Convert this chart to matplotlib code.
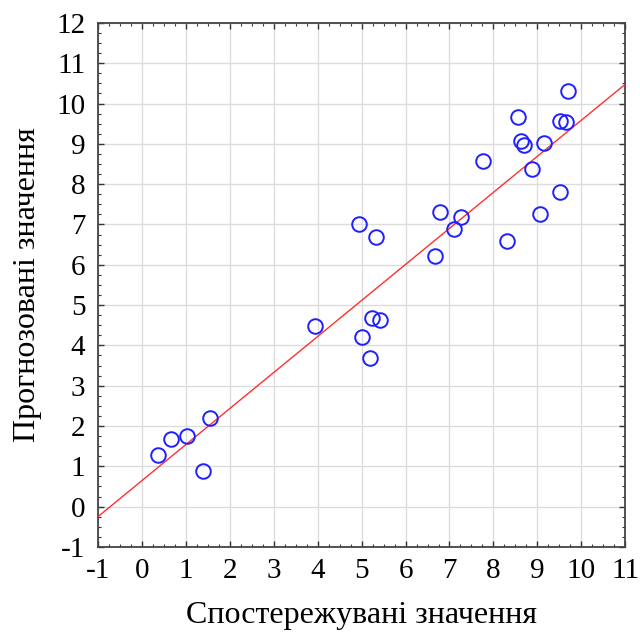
import numpy as np
import matplotlib
matplotlib.use("Agg")
import matplotlib.pyplot as plt
from matplotlib.ticker import MultipleLocator

observed = [0.37, 0.66, 1.03, 1.39, 1.55, 3.93, 4.95, 5.01, 5.20, 5.23,
            5.33, 5.41, 6.67, 6.78, 7.11, 7.26, 7.76, 8.31, 8.55, 8.63,
            8.69, 8.87, 9.05, 9.15, 9.52, 9.52, 9.65, 9.69]
predicted = [1.29, 1.67, 1.75, 0.88, 2.21, 4.47, 7.00, 4.22, 3.69, 4.68,
             6.68, 4.64, 6.22, 7.31, 6.88, 7.19, 8.58, 6.59, 9.66, 9.07,
             8.96, 8.37, 7.27, 9.03, 9.57, 7.80, 9.54, 10.32]

# fitted line
intercept = 0.645
slope = 0.894

plt.rcParams['font.family'] = ['Liberation Serif', 'DejaVu Serif']
plt.rcParams['axes.unicode_minus'] = False

fig = plt.figure(figsize=(6.4, 6.36), dpi=100)
ax = fig.add_axes([0.153, 0.140, 0.824, 0.824])

xx = np.array([-1, 11])
ax.plot(xx, intercept + slope * xx, color='#ff3030', lw=1.0, zorder=3)
ax.plot(observed, predicted, 'o', ms=10.5, mfc='none', mec='#2020ff',
        mew=1.4, zorder=4)

ax.set_xlim(-1, 11)
ax.set_ylim(-1, 12)
ax.xaxis.set_major_locator(MultipleLocator(1))
ax.yaxis.set_major_locator(MultipleLocator(1))
ax.xaxis.set_minor_locator(MultipleLocator(0.25))
ax.yaxis.set_minor_locator(MultipleLocator(0.25))
ax.grid(True, which='major', color='#dcdcdc', lw=1.0, zorder=0)
ax.set_axisbelow(True)

ax.tick_params(which='both', direction='in', top=True, right=True,
               color='#333333')
ax.tick_params(which='major', length=4, width=1.0, labelsize=21)
ax.tick_params(axis='x', which='major', pad=8)
ax.tick_params(axis='y', which='major', pad=9)
ax.tick_params(which='minor', length=2, width=0.8)
for s in ax.spines.values():
    s.set_color('#444444')
    s.set_linewidth(1.3)

ax.set_xlabel('Спостережувані значення', fontsize=23)
ax.set_ylabel('Прогнозовані значення', fontsize=23)
ax.xaxis.set_label_coords(0.5, -0.103)
ax.yaxis.set_label_coords(-0.106, 0.5)

fig.savefig('out.png', dpi=100)
